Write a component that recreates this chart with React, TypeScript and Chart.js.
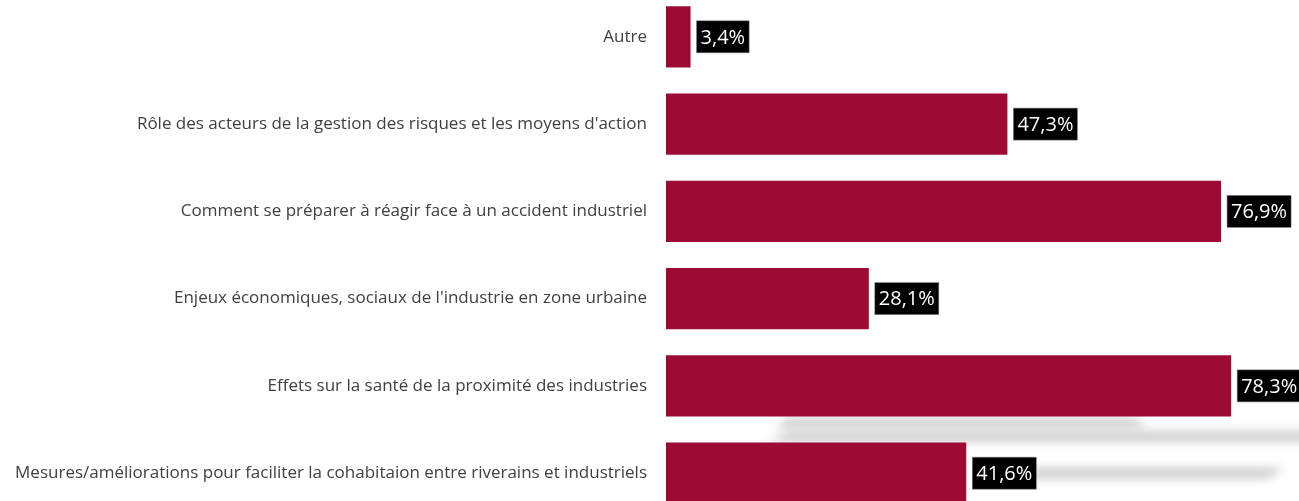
import React, { useEffect, useRef } from "react";
import { Chart, registerables } from "chart.js";

Chart.register(...registerables);

const categories = [
  "Autre",
  "Rôle des acteurs de la gestion des risques et les moyens d'action",
  "Comment se préparer à réagir face à un accident industriel",
  "Enjeux économiques, sociaux de l'industrie en zone urbaine",
  "Effets sur la santé de la proximité des industries",
  "Mesures/améliorations pour faciliter la cohabitaion entre riverains et industriels",
];
const values = [3.4, 47.3, 76.9, 28.1, 78.3, 41.6];
const xMax = 87.7;

const BAR_COLOR = "#9D0A33";

const shadowPlugin = {
  id: "shadows",
  beforeDatasetsDraw(chart: any) {
    const meta = chart.getDatasetMeta(0);
    const bars = meta.data;
    const ctx = chart.ctx;
    const effets = bars[4];
    const mesures = bars[5];
    if (!effets || !mesures) return;
    const h = effets.height;
    ctx.save();
    ctx.filter = "blur(5px)";
    ctx.fillStyle = "rgba(195,195,195,0.75)";
    const b1 = effets.y + h / 2;
    const left = effets.base;
    ctx.beginPath();
    ctx.moveTo(left + 120, b1 + 1);
    ctx.lineTo(left + 470, b1 + 1);
    ctx.lineTo(left + 480, b1 + 12);
    ctx.lineTo(left + 110, b1 + 12);
    ctx.closePath();
    ctx.fill();
    ctx.beginPath();
    ctx.moveTo(left + 125, b1 + 14);
    ctx.lineTo(chart.width + 20, b1 + 14);
    ctx.lineTo(chart.width + 20, b1 + 26);
    ctx.lineTo(left + 100, b1 + 26);
    ctx.closePath();
    ctx.fill();
    const my = mesures.y;
    ctx.beginPath();
    ctx.moveTo(mesures.x + 20, my - 6);
    ctx.lineTo(left + 618, my - 6);
    ctx.lineTo(left + 603, my + 6);
    ctx.lineTo(mesures.x + 20, my + 6);
    ctx.closePath();
    ctx.fill();
    ctx.restore();
  },
};

const valueLabelPlugin = {
  id: "valueLabels",
  afterDatasetsDraw(chart: any) {
    const meta = chart.getDatasetMeta(0);
    const ctx = chart.ctx;
    ctx.save();
    ctx.font = "20px 'Open Sans', sans-serif";
    ctx.textBaseline = "middle";
    ctx.textAlign = "left";
    meta.data.forEach((bar: any, i: number) => {
      const txt = values[i].toFixed(1).replace(".", ",") + "%";
      const w = ctx.measureText(txt).width;
      const padX = 4;
      const bh = 32;
      const bx = bar.x + 6;
      const by = bar.y - bh / 2;
      ctx.fillStyle = "#000000";
      ctx.fillRect(bx, by, w + padX * 2, bh);
      ctx.strokeStyle = "#7f7f7f";
      ctx.lineWidth = 0.6;
      ctx.strokeRect(bx, by, w + padX * 2, bh);
      ctx.fillStyle = "#ffffff";
      ctx.fillText(txt, bx + padX, bar.y + 1);
    });
    ctx.restore();
  },
};

export default function App() {
  const ref = useRef<HTMLCanvasElement | null>(null);
  useEffect(() => {
    if (!ref.current) return;
    const chart = new Chart(ref.current, {
      type: "bar",
      data: {
        labels: categories,
        datasets: [
          {
            data: values,
            backgroundColor: BAR_COLOR,
            borderWidth: 0,
            barPercentage: 1,
            categoryPercentage: 0.7,
          },
        ],
      },
      options: {
        indexAxis: "y",
        animation: false,
        responsive: false,
        layout: { padding: 0 },
        plugins: {
          legend: { display: false },
          tooltip: { enabled: false },
        },
        scales: {
          x: {
            display: false,
            min: 0,
            max: xMax,
          },
          y: {
            grid: { display: false },
            border: { display: false },
            ticks: {
              color: "#404040",
              font: { family: "'Open Sans', sans-serif", size: 17 },
              padding: 11,
              autoSkip: false,
            },
            afterFit(scale: any) {
              scale.width = 666;
            },
          },
        },
      },
      plugins: [shadowPlugin, valueLabelPlugin],
    });
    return () => chart.destroy();
  }, []);
  return (
    <div
      style={{
        position: "fixed",
        left: 0,
        top: -28,
        width: 1299,
        height: 566,
        background: "#ffffff",
      }}
    >
      <canvas ref={ref} width={1299} height={566} style={{ display: "block" }} />
    </div>
  );
}
